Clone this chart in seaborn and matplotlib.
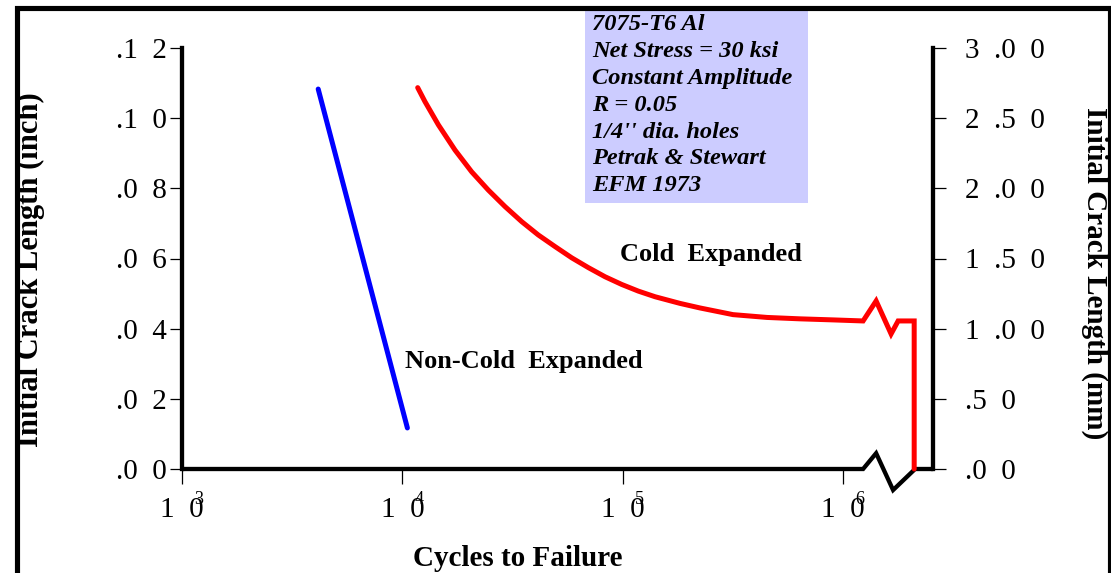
import numpy as np
import pandas as pd
import matplotlib
matplotlib.use("Agg")
import matplotlib.pyplot as plt
from matplotlib.patches import Rectangle
from matplotlib.transforms import blended_transform_factory
import seaborn as sns

# ---- data -------------------------------------------------------------
# Non-cold-expanded holes: cycles to failure vs. initial crack length (inch)
nce_cycles = [4150, 10540]
nce_crack = [0.1083, 0.0117]

# Cold-expanded holes (curve, then break and runout drop to zero)
ce_cycles = [11740, 12670, 14570, 17340, 20640, 24560, 29240, 34820,
             41410, 49310, 58700, 69850, 83150, 99000, 117800, 140300,
             182100, 224400, 316800, 451900, 638000, 900800, 1.233e6,
             1.413e6, 1.652e6, 1.778e6, 2.103e6, 2.103e6]
ce_crack = [0.1087, 0.1047, 0.0981, 0.0909, 0.0847, 0.0795, 0.0748, 0.0705,
            0.0667, 0.0634, 0.0602, 0.0574, 0.0548, 0.0526, 0.0507, 0.0491,
            0.0472, 0.0459, 0.0440, 0.0432, 0.0428, 0.0425, 0.0422,
            0.0479, 0.0385, 0.0422, 0.0422, 0.0]

# Broken x axis (zig-zag between 10^6 and runout)
axis_break_x = [1e3, 1.233e6, 1.413e6, 1.687e6, 2.123e6, 2.56e6]
axis_break_y = [0.0, 0.0, 0.0045, -0.0060, 0.0, 0.0]

x_ticks = [1e3, 1e4, 1e5, 1e6]
x_exponents = ["3", "4", "5", "6"]
y_ticks_in = [0.0, 0.02, 0.04, 0.06, 0.08, 0.10, 0.12]
y_labels_in = [".0  0", ".0  2", ".0  4", ".0  6", ".0  8", ".1  0", ".1  2"]
y_ticks_mm = [0.0, 0.5, 1.0, 1.5, 2.0, 2.5, 3.0]
y_labels_mm = [".0  0", ".5  0", "1  .0  0", "1  .5  0", "2  .0  0",
               "2  .5  0", "3  .0  0"]

info_lines = ["7075-T6 Al", "Net Stress = 30 ksi", "Constant Amplitude",
              "R = 0.05", "1/4'' dia. holes", "Petrak & Stewart", "EFM 1973"]

# ---- style ------------------------------------------------------------
sns.set_theme(style="white")
plt.rcParams["font.family"] = ["Liberation Serif", "DejaVu Serif"]
plt.rcParams.update({"text.color": "black", "axes.labelcolor": "black",
                     "xtick.color": "black", "ytick.color": "black"})

W, H = 1111, 573
fig = plt.figure(figsize=(W / 100, H / 100), dpi=100)
fig.patch.set_facecolor("white")

def fx(px):
    return px / W

def fy(py):
    return 1 - py / H

ax = fig.add_axes([fx(182), fy(469), fx(933) - fx(182), fy(48) - fy(469)])
ax.set_facecolor("white")

nce = pd.DataFrame({"cycles": nce_cycles, "crack": nce_crack})
ce = pd.DataFrame({"cycles": ce_cycles, "crack": ce_crack})
sns.lineplot(data=nce, x="cycles", y="crack", ax=ax, color="#0000FF",
             lw=3.6, estimator=None, sort=False, solid_capstyle="round")
sns.lineplot(data=ce, x="cycles", y="crack", ax=ax, color="#FF0000",
             lw=3.6, estimator=None, sort=False, clip_on=False,
             solid_capstyle="round", solid_joinstyle="miter")

ax.set_xscale("log")
ax.set_xlim(1e3, 2.56e6)
ax.set_ylim(0, 0.12)

# axis line with break
ax.plot(axis_break_x, axis_break_y, color="black", lw=3.1, clip_on=False,
        solid_joinstyle="miter", zorder=1)

for side in ["top", "bottom", "right"]:
    ax.spines[side].set_visible(False)
ax.spines["left"].set_linewidth(3.1)
ax.spines["left"].set_color("black")

tick_font = dict(family="Liberation Serif", size=21, color="black")
ax.set_yticks(y_ticks_in)
ax.set_yticklabels(y_labels_in, fontdict=tick_font)
ax.tick_params(axis="y", which="both", direction="out", length=9,
               width=0.9, color="black", pad=2, left=True)
ax.set_xticks(x_ticks)
ax.set_xticklabels(["1  0"] * len(x_ticks), fontdict=tick_font)
ax.xaxis.set_minor_locator(matplotlib.ticker.NullLocator())
ax.tick_params(axis="x", which="major", direction="out", length=11,
               width=0.9, color="black", pad=9, bottom=True)
ax.set_xlabel("")
ax.set_ylabel("")

# exponents sitting on the "0" of each decade label
trans = blended_transform_factory(ax.transData, ax.transAxes)
for xv, e in zip(x_ticks, x_exponents):
    ax.annotate(e, xy=(xv, 0), xycoords=trans, xytext=(12, -22),
                textcoords="offset points", fontsize=13, color="black",
                family="Liberation Serif", ha="center", va="center")

ax2 = ax.twinx()
ax2.set_ylim(0, 3.0)
for side in ["top", "bottom", "left"]:
    ax2.spines[side].set_visible(False)
ax2.spines["right"].set_linewidth(3.1)
ax2.spines["right"].set_color("black")
ax2.set_yticks(y_ticks_mm)
ax2.set_yticklabels(y_labels_mm, fontdict=tick_font)
ax2.tick_params(axis="y", direction="out", length=9, width=0.9,
                color="black", pad=14, right=True)
ax2.grid(False)
ax.grid(False)

# curve annotations
lab_font = dict(family="Liberation Serif", size=19, weight="bold",
                color="black")
ax.text(97700, 0.061, "Cold  Expanded", ha="left", va="center", **lab_font)
ax.text(10300, 0.0305, "Non-Cold  Expanded", ha="left", va="center",
        **lab_font)

# axis titles
title_font = dict(family="Liberation Serif", weight="bold", color="black")
fig.text(fx(30), fy(270), "Initial Crack Length (inch)", rotation=90,
         ha="center", va="center", size=22, **title_font)
fig.text(fx(1095), fy(273), "Initial Crack Length (mm)", rotation=270,
         ha="center", va="center", size=21, **title_font)
fig.text(fx(518), fy(558), "Cycles to Failure", ha="center", va="center",
         size=21, **title_font)

# information box
fig.add_artist(Rectangle((fx(585), fy(203)), fx(808) - fx(585),
                         fy(9) - fy(203), transform=fig.transFigure,
                         facecolor="#CCCCFF", edgecolor="none", zorder=5))
for i, line in enumerate(info_lines):
    fig.text(fx(592), fy(25 + i * 26.8), line, ha="left", va="center",
             family="Liberation Serif", size=17.6, weight="bold",
             style="italic", color="black", zorder=6)

# outer frame
fig.add_artist(Rectangle((fx(16.5), -0.05), fx(1109.5) - fx(16.5),
                         fy(8.5) + 0.05, transform=fig.transFigure,
                         facecolor="none", edgecolor="black", lw=3.7,
                         zorder=7, clip_on=False))

fig.savefig("out.png", dpi=100)
